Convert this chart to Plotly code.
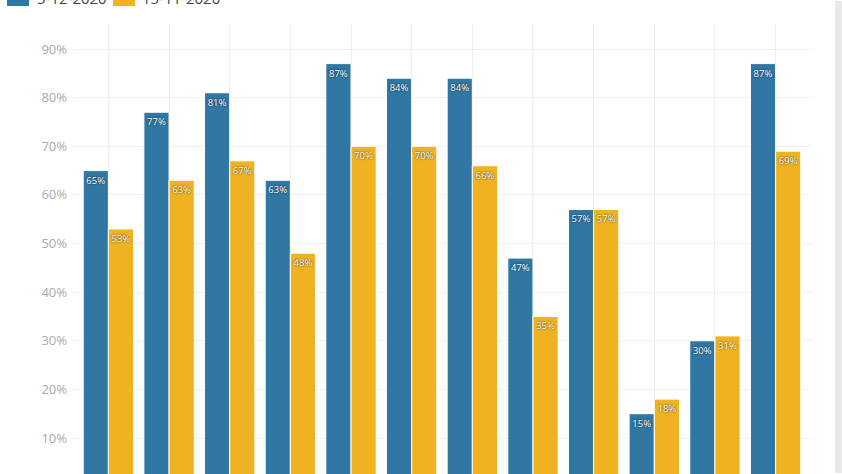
import plotly.graph_objects as go

# categories are below the visible crop, so only placeholders
categories = ['Q1', 'Q2', 'Q3', 'Q4', 'Q5', 'Q6', 'Q7', 'Q8', 'Q9', 'Q10', 'Q11', 'Q12']
dec_5 = [65, 77, 81, 63, 87, 84, 84, 47, 57, 15, 30, 87]
nov_15 = [53, 63, 67, 48, 70, 70, 66, 35, 57, 18, 31, 69]
series_names = ['5-12-2020', '15-11-2020']
y_ticks = [10, 20, 30, 40, 50, 60, 70, 80, 90]
y_ticktext = [f'{t}%' for t in y_ticks]

BLUE = '#3177a3'
YELLOW = '#efb321'

W, H = 842, 474
ML, MR, MT, MB = 72, 30, 23, 0
PW, PH = W - ML - MR, H - MT - MB


def px_x(p):
    return (p - ML) / PW


def px_y(p):
    return (H - MB - p) / PH


fig = go.Figure()
for name, vals, col in [(series_names[0], dec_5, BLUE), (series_names[1], nov_15, YELLOW)]:
    fig.add_trace(go.Bar(
        x=categories, y=vals, name=name,
        marker=dict(color=col, line=dict(color='white', width=1)),
        text=[f'{v}%' for v in vals],
        textposition='inside', insidetextanchor='end',
        textangle=0,
        textfont=dict(size=9.5, color='white', family='Open Sans',
                      shadow='0px 0px 2px #111'),
        showlegend=False, hoverinfo='skip'
    ))

# legend drawn by hand (only its lower half is visible in the crop)
shapes = []
annotations = []
for name, col, x0, tx in [(series_names[0], BLUE, 7, 35), (series_names[1], YELLOW, 113, 140)]:
    shapes.append(dict(type='rect', xref='paper', yref='paper',
                       x0=px_x(x0), x1=px_x(x0 + 22), y0=px_y(6), y1=px_y(-9),
                       fillcolor=col, line=dict(width=0), layer='above'))
    annotations.append(dict(text=name, xref='paper', yref='paper',
                            x=px_x(tx), y=px_y(-2), xanchor='left', yanchor='middle',
                            showarrow=False,
                            font=dict(size=15, color='#444', family='Open Sans')))

# scrollbar strip at the right edge
shapes.append(dict(type='rect', xref='paper', yref='paper',
                   x0=px_x(835), x1=px_x(842), y0=px_y(H - 1), y1=px_y(1),
                   fillcolor='#e9e9e9', line=dict(width=0), layer='above'))

fig.update_layout(
    width=W, height=H,
    margin=dict(l=ML, r=MR, t=MT, b=MB, autoexpand=False),
    barmode='group', bargap=0.17, bargroupgap=0,
    plot_bgcolor='white', paper_bgcolor='white',
    showlegend=False,
    shapes=shapes, annotations=annotations,
    uniformtext=dict(minsize=9, mode='show'),
)
fig.update_xaxes(range=[-0.6, 11.6], showgrid=True, gridcolor='#efefef', gridwidth=1,
                 showticklabels=False, zeroline=False, showline=False, ticks='')
fig.update_yaxes(range=[2.6, 95.35], tickmode='array', tickvals=y_ticks, ticktext=y_ticktext,
                 showgrid=True, gridcolor='#efefef', zeroline=False, showline=False,
                 tickfont=dict(size=13, color='#aaaaaa', family='Open Sans'),
                 ticklabelstandoff=4)

# page body has an 8px default margin; drop it so the figure sits at 0,0
fig.write_html('out.html', config={'displayModeBar': False},
               post_script="document.body.style.margin='0';")
